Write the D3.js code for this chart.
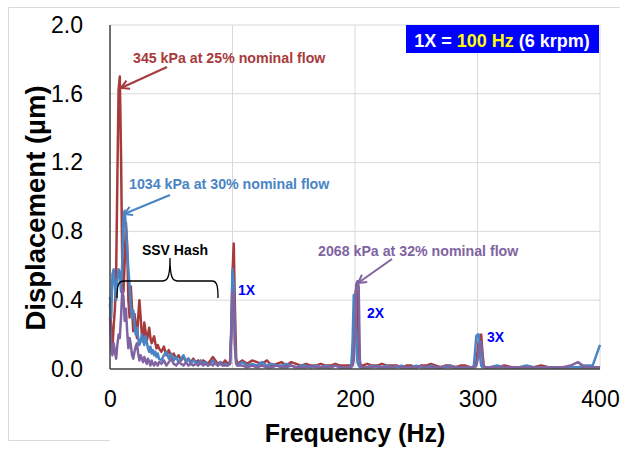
<!DOCTYPE html>
<html>
<head>
<meta charset="utf-8">
<script src="https://cdn.jsdelivr.net/npm/d3@7"></script>
<style>
  body { margin: 0; background: #fff; }
  text { font-family: "Liberation Sans", Arial, sans-serif; }
</style>
</head>
<body>
<div id="chart"></div>
<script>
// Frequency bins (Hz): fine where the spectrum has detail, coarser in the flat parts
const freq = [].concat(
    d3.range(0, 41, 1), d3.range(42, 97, 2), d3.range(98, 105, 1), d3.range(108, 193, 4),
    d3.range(196, 207, 1), d3.range(210, 295, 4), d3.range(296, 307, 1), d3.range(310, 401, 6)
);

// 345 kPa at 25% nominal flow
const red345 = [
    0.38, 0.22, 0.12, 0.25, 0.35, 0.55, 1.10, 1.62, 1.70, 1.25,
    0.62, 0.45, 0.62, 0.85, 0.72, 0.40, 0.30, 0.48, 0.35, 0.22,
    0.32, 0.26, 0.18, 0.30, 0.40, 0.30, 0.20, 0.16, 0.27, 0.22,
    0.16, 0.20, 0.24, 0.18, 0.15, 0.17, 0.19, 0.15, 0.12, 0.14, 0.12,
    0.10, 0.13, 0.08, 0.11, 0.07, 0.09, 0.06, 0.08, 0.05, 0.07,
    0.05, 0.06, 0.04, 0.06, 0.04, 0.05, 0.03, 0.05, 0.04, 0.03,
    0.05, 0.07, 0.05, 0.03, 0.04, 0.03, 0.05, 0.03,
    0.04, 0.20, 0.55, 0.73, 0.35, 0.06, 0.03,
    0.05, 0.03, 0.05, 0.04, 0.03, 0.05, 0.02, 0.03, 0.04, 0.02,
    0.04, 0.03, 0.02, 0.03, 0.02, 0.02, 0.03, 0.02, 0.02, 0.03, 0.02, 0.02,
    0.02, 0.02, 0.05, 0.25, 0.42, 0.47, 0.40, 0.12, 0.03, 0.02, 0.02,
    0.03, 0.02, 0.02, 0.03, 0.02, 0.02, 0.02, 0.01, 0.02, 0.02,
    0.01, 0.02, 0.02, 0.03, 0.02, 0.01, 0.02, 0.02, 0.01, 0.02, 0.02, 0.01,
    0.01, 0.01, 0.02, 0.04, 0.10, 0.16, 0.19, 0.20, 0.10, 0.02, 0.01,
    0.01, 0.01, 0.02, 0.01, 0.01, 0.01, 0.01, 0.02, 0.01, 0.01, 0.01, 0.01, 0.01, 0.01, 0.01, 0.01
];

// 1034 kPa at 30% nominal flow
const blue1034 = [
    0.42, 0.30, 0.55, 0.58, 0.48, 0.40, 0.52, 0.58, 0.56, 0.45,
    0.62, 0.88, 0.92, 0.82, 0.70, 0.58, 0.48, 0.36, 0.30, 0.34,
    0.26, 0.20, 0.24, 0.18, 0.14, 0.16, 0.20, 0.17, 0.14, 0.19,
    0.16, 0.12, 0.10, 0.13, 0.09, 0.11, 0.08, 0.10, 0.07, 0.09, 0.06,
    0.05, 0.08, 0.10, 0.06, 0.09, 0.05, 0.07, 0.04, 0.06, 0.08,
    0.04, 0.06, 0.03, 0.05, 0.04, 0.03, 0.05, 0.03, 0.04, 0.02,
    0.03, 0.05, 0.03, 0.02, 0.04, 0.02, 0.03, 0.02,
    0.03, 0.25, 0.58, 0.50, 0.15, 0.04, 0.02,
    0.04, 0.02, 0.03, 0.02, 0.04, 0.02, 0.03, 0.02, 0.02, 0.03,
    0.02, 0.01, 0.02, 0.02, 0.01, 0.02, 0.01, 0.02, 0.01, 0.02, 0.01, 0.01,
    0.01, 0.02, 0.15, 0.43, 0.43, 0.20, 0.04, 0.02, 0.01, 0.01, 0.01,
    0.01, 0.02, 0.01, 0.01, 0.02, 0.01, 0.01, 0.02, 0.01, 0.01,
    0.02, 0.01, 0.01, 0.02, 0.01, 0.01, 0.01, 0.02, 0.01, 0.01, 0.01, 0.01,
    0.01, 0.02, 0.10, 0.19, 0.20, 0.20, 0.08, 0.02, 0.01, 0.01, 0.01,
    0.01, 0.02, 0.01, 0.01, 0.01, 0.02, 0.01, 0.01, 0.01, 0.01, 0.01, 0.01, 0.01, 0.02, 0.02, 0.14
];

// 2068 kPa at 32% nominal flow
const purple2068 = [
    0.30, 0.12, 0.08, 0.15, 0.10, 0.06, 0.14, 0.20, 0.18, 0.30,
    0.46, 0.42, 0.28, 0.35, 0.22, 0.12, 0.18, 0.14, 0.08, 0.06,
    0.10, 0.13, 0.15, 0.09, 0.05, 0.08, 0.06, 0.04, 0.07, 0.05,
    0.03, 0.06, 0.04, 0.02, 0.05, 0.03, 0.02, 0.04, 0.03, 0.02, 0.04,
    0.03, 0.05, 0.02, 0.04, 0.06, 0.03, 0.02, 0.04, 0.03, 0.02,
    0.04, 0.02, 0.03, 0.02, 0.03, 0.02, 0.04, 0.02, 0.03, 0.02,
    0.03, 0.02, 0.04, 0.02, 0.03, 0.02, 0.02, 0.02,
    0.03, 0.20, 0.45, 0.40, 0.12, 0.03, 0.02,
    0.02, 0.01, 0.02, 0.01, 0.02, 0.01, 0.01, 0.02, 0.01, 0.01,
    0.02, 0.01, 0.01, 0.01, 0.02, 0.01, 0.01, 0.01, 0.01, 0.02, 0.01, 0.01,
    0.01, 0.01, 0.02, 0.05, 0.20, 0.49, 0.51, 0.48, 0.05, 0.01, 0.01,
    0.01, 0.01, 0.02, 0.01, 0.01, 0.01, 0.02, 0.01, 0.01, 0.01,
    0.01, 0.02, 0.01, 0.01, 0.01, 0.01, 0.02, 0.01, 0.01, 0.01, 0.01, 0.01,
    0.01, 0.01, 0.01, 0.02, 0.05, 0.10, 0.15, 0.16, 0.08, 0.02, 0.01,
    0.01, 0.01, 0.01, 0.01, 0.01, 0.01, 0.01, 0.01, 0.01, 0.01, 0.01, 0.02, 0.04, 0.01, 0.01, 0.01
];

const xTicks = [0, 100, 200, 300, 400];
const yTicks = [0, 0.4, 0.8, 1.2, 1.6, 2.0];

const width = 620;
const height = 452;
const margin = { top: 25, right: 20, bottom: 83, left: 110 };

const RED = "#a83a3c", BLUE = "#4a84c4", PURPLE = "#8064a2";

const svg = d3.select("#chart")
    .append("svg")
    .attr("width", width)
    .attr("height", height);

// faint frame of the slide
svg.append("path")
    .attr("d", "M620,7.5 H8.5 V440.5 H110")
    .attr("fill", "none")
    .attr("stroke", "#d9d9d9");

const x = d3.scaleLinear().domain([0, 400]).range([margin.left, width - margin.right]);
const y = d3.scaleLinear().domain([0, 2]).range([height - margin.bottom, margin.top]);

// Gridlines
svg.append("g")
    .selectAll("line.h")
    .data(yTicks.slice(1))
    .enter().append("line")
    .attr("x1", x(0)).attr("x2", x(400))
    .attr("y1", d => y(d)).attr("y2", d => y(d))
    .attr("stroke", "#d9d9d9").attr("stroke-width", 1);

svg.append("g")
    .selectAll("line.v")
    .data(xTicks.slice(1))
    .enter().append("line")
    .attr("x1", d => x(d)).attr("x2", d => x(d))
    .attr("y1", y(0)).attr("y2", y(2))
    .attr("stroke", "#d9d9d9").attr("stroke-width", 1);

// Axes (labels only, Excel style)
const xAxis = svg.append("g")
    .attr("transform", `translate(0,${y(0)})`)
    .call(d3.axisBottom(x).tickValues(xTicks).tickSize(0).tickPadding(22).tickFormat(d3.format("d")));
xAxis.select(".domain").remove();
xAxis.selectAll("text").style("font-size", "23px").attr("fill", "#000")
    .style("font-family", "'Liberation Sans', Arial, sans-serif");

const yAxis = svg.append("g")
    .attr("transform", `translate(${margin.left},0)`)
    .call(d3.axisLeft(y).tickValues(yTicks).tickSize(0).tickPadding(27).tickFormat(d3.format(".1f")));
yAxis.select(".domain").remove();
yAxis.selectAll("text").style("font-size", "23px").attr("fill", "#000")
    .style("font-family", "'Liberation Sans', Arial, sans-serif");

// Series
const line = d3.line()
    .x((d, i) => x(freq[i]))
    .y(d => y(d));

[[red345, RED], [blue1034, BLUE], [purple2068, PURPLE]].forEach(([vals, col]) => {
    svg.append("path")
        .datum(vals)
        .attr("d", line)
        .attr("fill", "none")
        .attr("stroke", col)
        .attr("stroke-width", 2.5)
        .attr("stroke-linejoin", "round");
});

// axis lines on top
svg.append("line").attr("x1", x(0)).attr("x2", x(0)).attr("y1", y(0)).attr("y2", y(2))
    .attr("stroke", "#404040").attr("stroke-width", 1.5);
svg.append("line").attr("x1", x(0)).attr("x2", x(400)).attr("y1", y(0)).attr("y2", y(0))
    .attr("stroke", "#404040").attr("stroke-width", 1.5);

// Axis titles
svg.append("text")
    .attr("transform", "translate(35,208) rotate(-90)")
    .attr("text-anchor", "middle")
    .attr("dominant-baseline", "central")
    .style("font-size", "27.5px").style("font-weight", "bold")
    .text("Displacement (µm)");

svg.append("text")
    .attr("x", (x(0) + x(400)) / 2)
    .attr("y", 442)
    .attr("text-anchor", "middle")
    .style("font-size", "25px").style("font-weight", "bold")
    .text("Frequency (Hz)");

// 1X box
svg.append("rect").attr("x", 406).attr("y", 25).attr("width", 193).attr("height", 28).attr("fill", "#0000ff");
const boxText = svg.append("text")
    .attr("x", 502).attr("y", 46.5)
    .attr("text-anchor", "middle")
    .style("font-size", "18px").style("font-weight", "bold")
    .attr("fill", "#fff");
boxText.append("tspan").text("1X = ");
boxText.append("tspan").attr("fill", "#ffff00").text("100 Hz");
boxText.append("tspan").text(" (6 krpm)");

// Arrow markers
const defs = svg.append("defs");
[["arRed", RED], ["arBlue", BLUE], ["arPurple", PURPLE]].forEach(([id, col]) => {
    defs.append("marker")
        .attr("id", id)
        .attr("markerUnits", "userSpaceOnUse")
        .attr("markerWidth", 12).attr("markerHeight", 12)
        .attr("refX", 10).attr("refY", 6)
        .attr("orient", "auto")
        .append("path")
        .attr("d", "M2,1.5 L10,6 L2,10.5")
        .attr("fill", "none")
        .attr("stroke", col)
        .attr("stroke-width", 2);
});

// Annotations
const annotations = [
    { label: "345 kPa at 25% nominal flow", color: RED, tx: 133, ty: 63, from: [167, 67], to: [121, 88], marker: "arRed" },
    { label: "1034 kPa at 30% nominal flow", color: BLUE, tx: 129, ty: 189, from: [170, 195], to: [124, 214], marker: "arBlue" },
    { label: "2068 kPa at 32% nominal flow", color: PURPLE, tx: 318, ty: 256, from: [392, 259], to: [358, 283], marker: "arPurple" }
];
annotations.forEach(a => {
    svg.append("text")
        .attr("x", a.tx).attr("y", a.ty)
        .attr("fill", a.color)
        .style("font-size", "14.2px").style("font-weight", "bold")
        .text(a.label);
    svg.append("line")
        .attr("x1", a.from[0]).attr("y1", a.from[1])
        .attr("x2", a.to[0]).attr("y2", a.to[1])
        .attr("stroke", a.color).attr("stroke-width", 2)
        .attr("marker-end", `url(#${a.marker})`);
});

// SSV hash brace
svg.append("path")
    .attr("d", "M117,298 C117,286 118,281 124,281 L162,281 C167,281 170,279 170,258 C170,279 173,281 178,281 L212,281 C217,281 218,286 218,298")
    .attr("fill", "none")
    .attr("stroke", "#000")
    .attr("stroke-width", 1.3);
svg.append("text")
    .attr("x", 175).attr("y", 255)
    .attr("text-anchor", "middle")
    .style("font-size", "14px").style("font-weight", "bold")
    .text("SSV Hash");

// harmonic labels
[["1X", 238, 295], ["2X", 367, 318], ["3X", 487, 342]].forEach(([t, tx, ty]) => {
    svg.append("text")
        .attr("x", tx).attr("y", ty)
        .attr("fill", "#0000ff")
        .style("font-size", "14px").style("font-weight", "bold")
        .text(t);
});
</script>
</body>
</html>
